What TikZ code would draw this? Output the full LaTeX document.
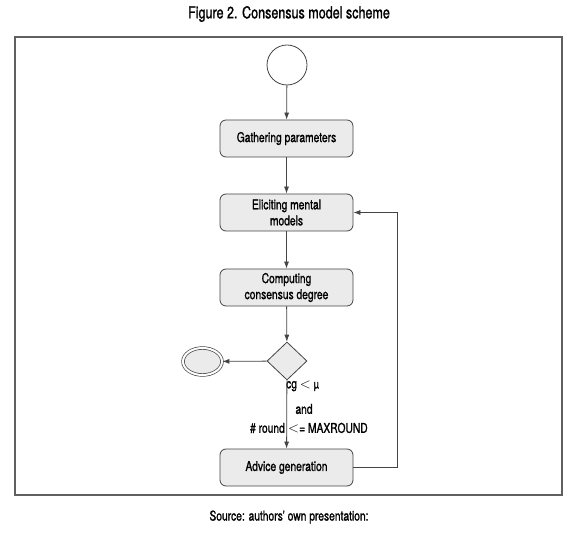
\documentclass[tikz,border=0pt]{standalone}
\usepackage{fontspec}
\setmainfont{TeX Gyre Heros}[FakeStretch=0.76, FakeBold=1.3]
\usetikzlibrary{arrows.meta,shapes.geometric}
\definecolor{boxfill}{HTML}{EBEBEB}
\definecolor{edge}{HTML}{444444}
\begin{document}
\begin{tikzpicture}[x=1pt,y=-1pt,
  every node/.style={font=\fontsize{13.5}{15}\selectfont, text=black},
  box/.style={draw=edge, line width=0.8pt, fill=boxfill, rounded corners=6pt,
    minimum width=133pt, minimum height=37pt, align=center, inner sep=1pt},
  startc/.style={circle, draw=edge, line width=0.8pt, fill=white, minimum size=40pt, inner sep=0pt},
  dia/.style={diamond, draw=edge, line width=0.8pt, fill=boxfill, minimum width=40pt, minimum height=38pt, inner sep=0pt},
  endc/.style={ellipse, draw=edge, line width=0.7pt, double=white, double distance=2pt, fill=boxfill,
    minimum width=39pt, minimum height=27pt, inner sep=0pt},
  conn/.style={draw=edge, line width=0.8pt, -{Latex[length=7pt,width=5pt]}},
  frame/.style={draw=edge!85, line width=2pt},
  lab/.style={inner sep=1pt},
  caption/.style={font=\fontsize{16.5}{18}\selectfont}
]
\useasboundingbox (0,0) rectangle (580,534);
\draw[frame] (15,37.5) rectangle (562,495);
\node[caption] (title) at (289,14) {Figure 2. Consensus model scheme};
\node[startc] (start) at (287,65) {};
\node[box] (gather) at (286.5,138.5) {Gathering parameters};
\node[box] (elicit) at (286.5,212.5) {Eliciting mental\\[1pt]models};
\node[box] (comp) at (286.5,287.5) {Computing\\[1pt]consensus degree};
\node[dia] (dec) at (287,361) {};
\node[endc] (fin) at (202.5,361.5) {};
\node[box] (advice) at (286.5,467.5) {Advice generation};
\coordinate (ret) at (397,300);
\node[lab, anchor=west] (l1) at (285,386) {cg {\Large$<$} {\large µ}};
\node[lab] (l2) at (304,409) {and};
\node[lab, anchor=east] (l3) at (286,428) {\# round};
\node[lab, anchor=west] (l4) at (287,428) {{\Large$<$}= MAXROUND};
\node (src) at (289,517) {Source: authors' own presentation:};
\draw[conn] (start) -- (gather);
\draw[conn] (gather) -- (elicit);
\draw[conn] (elicit) -- (comp);
\draw[conn] (comp) -- (dec);
\draw[conn] (dec) -- (fin);
\draw[conn] (dec) -- (advice);
\draw[conn] (advice.east) -| (ret |- elicit.east) -- (elicit.east);
\end{tikzpicture}
\end{document}
